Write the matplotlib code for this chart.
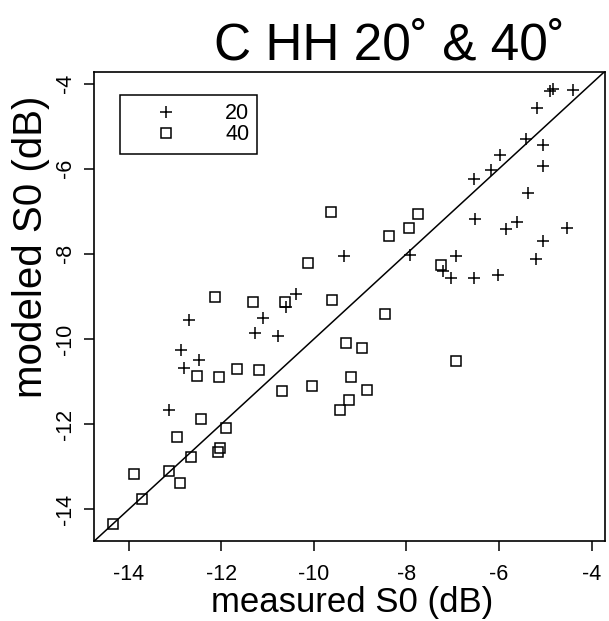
import matplotlib
matplotlib.use("Agg")
import matplotlib.pyplot as plt

# values (dB)
x20 = [-9.34, -10.38, -10.60, -12.70, -11.09, -11.27, -10.78, -12.88, -12.49, -12.81,
       -13.12, -4.84, -4.90, -4.41, -5.18, -5.42, -5.04, -5.97, -6.17, -5.04,
       -6.55, -5.38, -6.51, -5.60, -5.85, -4.52, -5.04, -5.20, -7.92, -6.93,
       -7.22, -7.04, -6.53, -6.03]
y20 = [-8.06, -8.95, -9.25, -9.55, -9.50, -9.85, -9.93, -10.26, -10.49, -10.68,
       -11.67, -4.12, -4.18, -4.15, -4.58, -5.29, -5.45, -5.67, -6.03, -5.93,
       -6.25, -6.58, -7.18, -7.25, -7.42, -7.38, -7.69, -8.11, -8.03, -8.06,
       -8.40, -8.57, -8.57, -8.50]

x40 = [-9.64, -10.13, -12.13, -11.31, -10.62, -9.61, -12.52, -12.04, -11.67, -11.19,
       -10.68, -10.03, -9.30, -9.43, -12.43, -11.90, -12.96, -12.03, -12.07, -12.65,
       -13.88, -13.14, -12.90, -13.72, -14.33, -8.46, -8.96, -6.93, -9.20, -8.86,
       -9.23, -7.76, -7.95, -8.38, -7.25]
y40 = [-7.01, -8.22, -9.02, -9.12, -9.14, -9.08, -10.87, -10.89, -10.71, -10.72,
       -11.22, -11.11, -10.10, -11.66, -11.87, -12.08, -12.31, -12.55, -12.65, -12.77,
       -13.16, -13.09, -13.38, -13.76, -14.34, -9.41, -10.22, -10.52, -10.89, -11.19,
       -11.42, -7.06, -7.40, -7.58, -8.26]

ticks = [-14, -12, -10, -8, -6, -4]
tick_labels = ["-14", "-12", "-10", "-8", "-6", "-4"]
labels = ["20", "40"]
lims = (-14.75, -3.72)

plt.rcParams["font.family"] = ["Liberation Sans", "DejaVu Sans"]

W, H = 609, 621
fig = plt.figure(figsize=(W / 100, H / 100), dpi=100)
ax = fig.add_axes([94 / W, 1 - 541.3 / H, 510.5 / W, 469.6 / H])

ax.plot(x20, y20, linestyle="none", marker="+", markersize=8, markeredgewidth=1.1,
        color="black", label=labels[0])
ax.plot(x40, y40, linestyle="none", marker="s", markersize=6.5, markeredgewidth=1.1,
        markerfacecolor="none", color="black", label=labels[1])
ax.axline((-10, -10), slope=1, color="black", linewidth=1.1)

ax.set_xlim(lims)
ax.set_ylim(lims)
ax.set_xticks(ticks)
ax.set_yticks(ticks)
ax.set_xticklabels(tick_labels, fontsize=15.5)
ax.set_yticklabels(tick_labels, fontsize=15.5, rotation=90, va="center")
ax.tick_params(length=7, width=1.1, color="black")
ax.tick_params(axis="x", pad=9)
ax.tick_params(axis="y", pad=6)
for s in ax.spines.values():
    s.set_linewidth(1.2)

leg = ax.legend(loc="upper left", bbox_to_anchor=(0.051, 0.950), borderaxespad=0,
                frameon=True, fancybox=False, edgecolor="black", framealpha=1,
                prop={"size": 15.5}, numpoints=1, handlelength=3.5,
                handletextpad=1.0, borderpad=0.38, labelspacing=0.0)
leg.get_frame().set_linewidth(1.1)

fig.text(389 / W, 1 - 60 / H, "C HH 20˚ & 40˚", fontsize=37,
         ha="center", va="baseline")
fig.text(352 / W, 1 - 612 / H, "measured S0 (dB)", fontsize=25,
         ha="center", va="baseline")
fig.text(42 / W, 1 - 247 / H, "modeled S0 (dB)", fontsize=29, rotation=90,
         rotation_mode="anchor", ha="center", va="baseline")

fig.savefig("out.png", dpi=100)
